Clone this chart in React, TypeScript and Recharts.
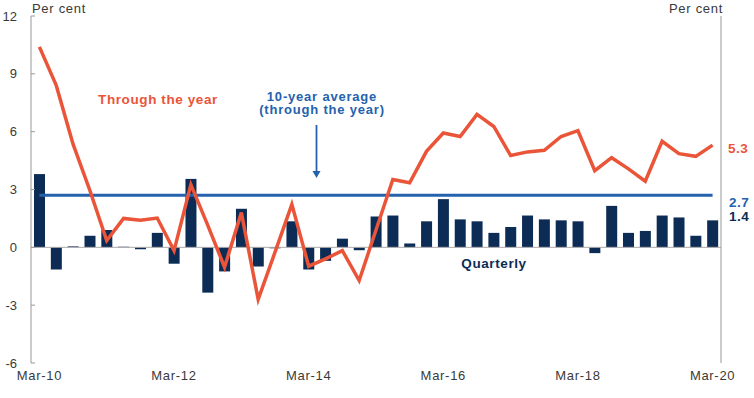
import React from 'react';
import { ComposedChart, Bar, Line, XAxis, YAxis, ReferenceLine } from 'recharts';

const quarters = [
  'Mar-10', 'Jun-10', 'Sep-10', 'Dec-10',
  'Mar-11', 'Jun-11', 'Sep-11', 'Dec-11',
  'Mar-12', 'Jun-12', 'Sep-12', 'Dec-12',
  'Mar-13', 'Jun-13', 'Sep-13', 'Dec-13',
  'Mar-14', 'Jun-14', 'Sep-14', 'Dec-14',
  'Mar-15', 'Jun-15', 'Sep-15', 'Dec-15',
  'Mar-16', 'Jun-16', 'Sep-16', 'Dec-16',
  'Mar-17', 'Jun-17', 'Sep-17', 'Dec-17',
  'Mar-18', 'Jun-18', 'Sep-18', 'Dec-18',
  'Mar-19', 'Jun-19', 'Sep-19', 'Dec-19',
  'Mar-20',
];

const quarterly = [
  3.8, -1.15, 0.05, 0.6,
  0.9, 0.03, -0.1, 0.75,
  -0.85, 3.55, -2.35, -1.25,
  2.0, -1.0, -0.05, 1.35,
  -1.15, -0.7, 0.45, -0.15,
  1.6, 1.65, 0.2, 1.35,
  2.5, 1.45, 1.35, 0.75,
  1.05, 1.65, 1.45, 1.4,
  1.35, -0.3, 2.15, 0.75,
  0.85, 1.65, 1.55, 0.6,
  1.4,
];

const throughTheYear = [
  10.4, 8.4, 5.35, 2.95,
  0.35, 1.5, 1.4, 1.52,
  -0.17, 3.25, 1.15, -1.03,
  1.8, -2.7, -0.25, 2.23,
  -0.98, -0.6, -0.17, -1.72,
  0.9, 3.52, 3.35, 4.98,
  5.93, 5.75, 6.9, 6.27,
  4.76, 4.95, 5.03, 5.75,
  6.05, 3.98, 4.65, 4.07,
  3.43, 5.5, 4.86, 4.72,
  5.3,
];

const tenYearAverage = 2.7;
const yTicks = [-6, -3, 0, 3, 6, 9, 12];

const NAVY = '#0C2C55';
const RED = '#EA5539';
const BLUE = '#2462AE';
const AXIS_TEXT = '#3a3a3a';
const FONT = '"Liberation Sans", Arial, sans-serif';

const data = quarters.map((q, i) => ({
  q,
  quarterly: quarterly[i],
  tty: throughTheYear[i],
}));

const LeftTick = (props: any) => {
  const { x, y, payload } = props;
  return (
    <g>
      <line x1={x + 14} x2={x + 18} y1={y} y2={y} stroke="#999" strokeWidth={1} />
      <text x={x} y={y} dy={4.5} textAnchor="end" fontSize={13} fill={AXIS_TEXT} fontFamily={FONT}>
        {payload.value}
      </text>
    </g>
  );
};

const RightTick = (props: any) => {
  const { x, y, payload } = props;
  return (
    <g>
      <line x1={x - 13} x2={x - 17} y1={y} y2={y} stroke="#999" strokeWidth={1} />
      <text x={x} y={y} dy={4.5} textAnchor="start" fontSize={13} fill={AXIS_TEXT} fontFamily={FONT}>
        {payload.value}
      </text>
    </g>
  );
};

const last = quarters.length - 1;

export default function App() {
  return (
    <div style={{ position: 'absolute', left: 0, top: 0, width: 754, height: 398, fontFamily: FONT }}>
      <ComposedChart
        width={754}
        height={398}
        data={data}
        margin={{ top: 16, right: 0, bottom: 0, left: 0 }}
      >
        <XAxis
          dataKey="q"
          interval={7}
          tickLine={false}
          axisLine={false}
          height={35}
          tickMargin={2}
          tick={{ fontSize: 13, fill: AXIS_TEXT, fontFamily: FONT, letterSpacing: 0.7 }}
        />
        <YAxis
          yAxisId="left"
          domain={[-6, 12]}
          ticks={yTicks}
          width={31}
          tickSize={6}
          tickMargin={8}
          tickLine={false}
          axisLine={{ stroke: '#999' }}
          tick={<LeftTick />}
        />
        <YAxis
          yAxisId="right"
          orientation="right"
          domain={[-6, 12]}
          ticks={yTicks}
          width={33}
          tickSize={6}
          tickMargin={7}
          tickLine={false}
          axisLine={{ stroke: '#999' }}
          tick={<RightTick />}
        />
        <ReferenceLine yAxisId="left" y={0} stroke="#aaa" strokeWidth={1} />
        <Bar yAxisId="left" dataKey="quarterly" fill={NAVY} barSize={11} isAnimationActive={false} />
        <ReferenceLine
          yAxisId="left"
          segment={[
            { x: quarters[0], y: tenYearAverage },
            { x: quarters[last], y: tenYearAverage },
          ]}
          stroke={BLUE}
          strokeWidth={3}
        />
        <Line
          yAxisId="left"
          dataKey="tty"
          stroke={RED}
          strokeWidth={3.5}
          dot={false}
          activeDot={false}
          isAnimationActive={false}
          strokeLinejoin="miter"
        />
      </ComposedChart>
      <svg
        width={754}
        height={398}
        style={{ position: 'absolute', left: 0, top: 0, pointerEvents: 'none' }}
      >
        <text x={32} y={12.5} fontSize={13} letterSpacing={0.7} fill={AXIS_TEXT} fontFamily={FONT}>Per cent</text>
        <text x={723} y={12.5} textAnchor="end" fontSize={13} letterSpacing={0.7} fill={AXIS_TEXT} fontFamily={FONT}>Per cent</text>
        <text x={158} y={104} textAnchor="middle" fontSize={13.5} fontWeight="bold" letterSpacing={0.6} fill={RED} fontFamily={FONT}>Through the year</text>
        <text x={322} y={100.5} textAnchor="middle" fontSize={13} fontWeight="bold" letterSpacing={0.8} fill={BLUE} fontFamily={FONT}>10-year average</text>
        <text x={322} y={114} textAnchor="middle" fontSize={13} fontWeight="bold" letterSpacing={0.8} fill={BLUE} fontFamily={FONT}>(through the year)</text>
        <line x1={316.5} x2={316.5} y1={125} y2={172} stroke={BLUE} strokeWidth={1.8} />
        <polygon points="312.5,171 320.5,171 316.5,178" fill={BLUE} />
        <text x={494} y={268} textAnchor="middle" fontSize={13.5} fontWeight="bold" letterSpacing={0.6} fill={NAVY} fontFamily={FONT}>Quarterly</text>
        <text x={728} y={152.5} fontSize={13.5} fontWeight="bold" letterSpacing={0.5} fill={RED} fontFamily={FONT}>{throughTheYear[last].toFixed(1)}</text>
        <text x={729} y={207} fontSize={13.5} fontWeight="bold" letterSpacing={0.5} fill={BLUE} fontFamily={FONT}>{tenYearAverage.toFixed(1)}</text>
        <text x={729} y={221} fontSize={13.5} fontWeight="bold" letterSpacing={0.5} fill={NAVY} fontFamily={FONT}>{quarterly[last].toFixed(1)}</text>
      </svg>
    </div>
  );
}
